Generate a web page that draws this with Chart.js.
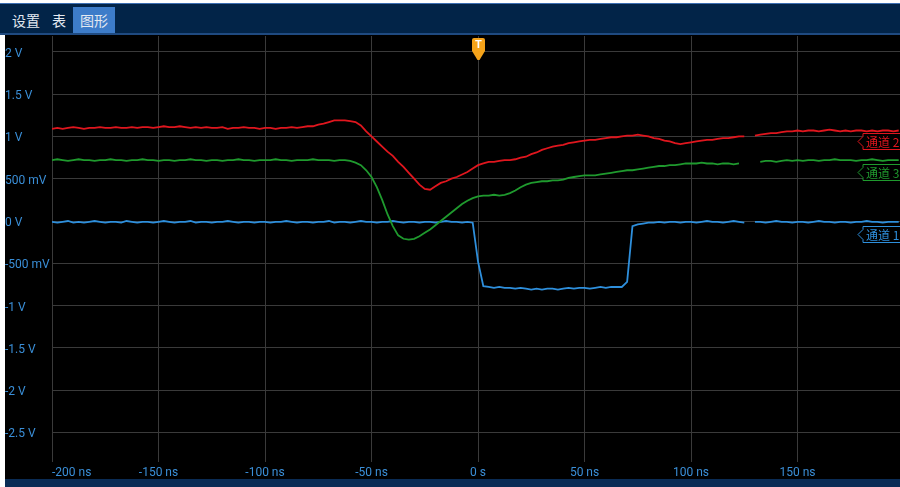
<!DOCTYPE html>
<html>
<head>
<meta charset="utf-8">
<script src="https://cdn.jsdelivr.net/npm/chart.js@4.4.1/dist/chart.umd.min.js"></script>
<style>
  html, body { margin: 0; padding: 0; background: #fff; width: 900px; height: 487px; overflow: hidden; }
  #topbar { position: absolute; left: 0; top: 3px; width: 900px; height: 32px; box-sizing: border-box;
            background: #022448; border-top: 1px solid #3c6fb3; border-bottom: 2px solid #1f4a80; }
  .tab { position: absolute; top: 3px; height: 26px; line-height: 26px; font-family: "Noto Sans CJK SC", sans-serif;
         font-size: 14px; color: #e3e9f1; text-align: center; }
  .tab.active { background: #3d7cc9; }
  #plot { position: absolute; left: 5px; top: 35px; width: 895px; height: 444px; background: #000; }
  #bottombar { position: absolute; left: 5px; top: 479px; width: 895px; height: 8px; background: #0a2c55; }
</style>
</head>
<body>
<div id="topbar">
  <div class="tab" style="left:12px;">设置</div>
  <div class="tab" style="left:52px;">表</div>
  <div class="tab active" style="left:73px;width:42px;">图形</div>
</div>
<div id="plot"><canvas id="scope" width="895" height="444"></canvas></div>
<div id="bottombar"></div>
<script>
// Sample times (ns)
const timeNs = [
  -200,-197.5,-195,-192.5,-190,-187.5,-185,-182.5,-180,-177.5,
  -175,-172.5,-170,-167.5,-165,-162.5,-160,-157.5,-155,-152.5,
  -150,-147.5,-145,-142.5,-140,-137.5,-135,-132.5,-130,-127.5,
  -125,-122.5,-120,-117.5,-115,-112.5,-110,-107.5,-105,-102.5,
  -100,-97.5,-95,-92.5,-90,-87.5,-85,-82.5,-80,-77.5,
  -75,-72.5,-70,-67.5,-65,-62.5,-60,-57.5,-55,-52.5,
  -50,-47.5,-45,-42.5,-40,-37.5,-35,-32.5,-30,-27.5,
  -25,-22.5,-20,-17.5,-15,-12.5,-10,-7.5,-5,-2.5,
  0,2.5,5,7.5,10,12.5,15,17.5,20,22.5,
  25,27.5,30,32.5,35,37.5,40,42.5,45,47.5,
  50,52.5,55,57.5,60,62.5,65,67.5,70,72.5,
  75,77.5,80,82.5,85,87.5,90,92.5,95,97.5,
  100,102.5,105,107.5,110,112.5,115,117.5,120,122.5,
  125,127.5,130,132.5,135,137.5,140,142.5,145,147.5,
  150,152.5,155,157.5,160,162.5,165,167.5,170,172.5,
  175,177.5,180,182.5,185,187.5,190,192.5,195,197.5
];

// Channel 1 (V)
const ch1Volts = [
  -0.01,-0.02,-0.01,0.00,-0.02,-0.01,-0.02,-0.01,0.00,-0.01,
  -0.02,-0.01,-0.01,-0.02,0.00,-0.01,-0.02,-0.01,-0.01,-0.02,
  -0.01,0.00,-0.01,-0.02,-0.01,-0.01,0.00,-0.02,-0.01,-0.01,
  -0.02,-0.01,-0.01,0.00,-0.01,-0.02,-0.01,-0.01,-0.02,-0.01,
  -0.01,-0.02,-0.01,-0.01,0.00,-0.01,-0.02,-0.01,-0.01,-0.02,
  -0.01,-0.01,0.00,-0.02,-0.01,-0.01,-0.02,-0.01,0.00,-0.01,
  -0.01,-0.02,-0.01,-0.01,0.00,-0.01,-0.02,-0.01,-0.01,-0.02,
  -0.01,-0.01,-0.02,-0.01,0.00,-0.01,-0.01,-0.02,-0.01,-0.02,
  -0.48,-0.77,-0.78,-0.79,-0.78,-0.79,-0.79,-0.80,-0.79,-0.80,
  -0.81,-0.80,-0.81,-0.80,-0.80,-0.81,-0.80,-0.79,-0.80,-0.79,
  -0.79,-0.80,-0.79,-0.78,-0.79,-0.78,-0.78,-0.78,-0.72,-0.06,
  -0.04,-0.03,-0.02,-0.02,-0.01,-0.02,-0.01,-0.01,-0.02,-0.01,
  -0.01,-0.02,-0.01,0.00,-0.01,-0.01,-0.02,-0.01,0.00,-0.01,
  -0.02,null,-0.01,-0.01,-0.02,-0.01,0.00,-0.01,-0.01,-0.02,
  -0.01,-0.01,-0.02,-0.01,0.00,-0.01,-0.01,-0.02,-0.01,-0.01,
  -0.02,-0.01,-0.01,0.00,-0.01,-0.01,-0.02,-0.01,-0.01,-0.01
];

// Channel 2 (V)
const ch2Volts = [
  1.09,1.10,1.09,1.10,1.11,1.10,1.09,1.10,1.10,1.11,
  1.10,1.10,1.11,1.10,1.10,1.11,1.10,1.11,1.11,1.10,
  1.11,1.12,1.11,1.11,1.12,1.11,1.10,1.11,1.10,1.11,
  1.10,1.10,1.11,1.09,1.10,1.10,1.11,1.10,1.10,1.09,
  1.10,1.10,1.09,1.10,1.10,1.11,1.10,1.11,1.12,1.12,
  1.14,1.15,1.17,1.19,1.19,1.19,1.18,1.17,1.13,1.06,
  1.00,0.94,0.88,0.82,0.77,0.70,0.64,0.57,0.50,0.43,
  0.38,0.37,0.41,0.45,0.47,0.50,0.52,0.55,0.58,0.62,
  0.66,0.68,0.70,0.70,0.71,0.72,0.72,0.73,0.75,0.76,
  0.79,0.81,0.84,0.86,0.88,0.89,0.90,0.92,0.93,0.94,
  0.95,0.96,0.96,0.97,0.98,0.99,0.99,1.00,1.01,1.01,
  1.02,1.01,1.00,0.98,0.97,0.95,0.94,0.92,0.91,0.92,
  0.93,0.94,0.95,0.96,0.96,0.97,0.98,0.98,0.99,1.00,
  1.00,null,1.01,1.02,1.03,1.04,1.04,1.05,1.06,1.06,
  1.07,1.06,1.07,1.07,1.06,1.07,1.08,1.07,1.06,1.07,
  1.06,1.07,1.07,1.06,1.07,1.06,1.07,1.07,1.06,1.07
];

// Channel 3 (V)
const ch3Volts = [
  0.72,0.73,0.72,0.71,0.72,0.73,0.72,0.72,0.71,0.72,
  0.72,0.73,0.72,0.72,0.71,0.72,0.72,0.73,0.72,0.72,
  0.71,0.72,0.72,0.71,0.72,0.72,0.73,0.72,0.72,0.71,
  0.72,0.72,0.71,0.72,0.72,0.73,0.72,0.72,0.71,0.72,
  0.72,0.72,0.73,0.72,0.72,0.71,0.72,0.72,0.72,0.73,
  0.72,0.72,0.72,0.71,0.72,0.72,0.71,0.69,0.66,0.60,
  0.52,0.40,0.25,0.08,-0.06,-0.17,-0.21,-0.22,-0.21,-0.18,
  -0.14,-0.10,-0.05,0.00,0.05,0.10,0.15,0.20,0.24,0.27,
  0.29,0.30,0.30,0.31,0.30,0.31,0.33,0.36,0.40,0.43,
  0.45,0.46,0.47,0.47,0.48,0.48,0.49,0.51,0.52,0.53,
  0.54,0.54,0.54,0.55,0.56,0.57,0.58,0.59,0.60,0.60,
  0.61,0.62,0.63,0.64,0.65,0.65,0.66,0.66,0.67,0.68,
  0.68,0.68,0.69,0.68,0.68,0.67,0.68,0.68,0.67,0.68,
  null,null,null,0.70,0.71,0.71,0.70,0.71,0.72,0.71,
  0.72,0.71,0.72,0.72,0.71,0.72,0.72,0.73,0.72,0.72,
  0.72,0.71,0.72,0.72,0.73,0.72,0.71,0.72,0.72,0.72
];

const yTickValues = [-2.5, -2, -1.5, -1, -0.5, 0, 0.5, 1, 1.5, 2];
const yTickLabels = ['-2.5 V', '-2 V', '-1.5 V', '-1 V', '-500 mV', '0 V', '500 mV', '1 V', '1.5 V', '2 V'];
const xTickValues = [-200, -150, -100, -50, 0, 50, 100, 150];
const xTickLabels = ['-200 ns', '-150 ns', '-100 ns', '-50 ns', '0 s', '50 ns', '100 ns', '150 ns'];
const channelNames = ['通道 1', '通道 2', '通道 3'];
const channelColors = ['#2e8fdc', '#e0161e', '#1f9a2e'];

const X_MIN = -200, X_MAX = 198.1;
const Y_MIN = -2.849, Y_MAX = 2.187;
const GRID = '#3a3a3a';
const TICK_COLOR = '#3a8fd8';

function series(values) {
  return timeNs.map((t, i) => ({ x: t, y: values[i] }));
}

// Channel offset tags on the right edge and the trigger pin at t = 0
const overlayPlugin = {
  id: 'scopeOverlay',
  afterDatasetsDraw(chart, args, opts) {
    const ctx = chart.ctx;
    const xs = chart.scales.x, ys = chart.scales.y;
    const area = chart.chartArea;
    ctx.save();
    opts.tags.forEach(tag => {
      const cy = Math.round(ys.getPixelForValue(tag.level)) + 0.5;
      const tip = area.right - 42, left = tip + 5;
      const top = cy - 8, bottom = cy + 8;
      ctx.beginPath();
      ctx.moveTo(area.right + 3, top);
      ctx.lineTo(left, top);
      ctx.lineTo(left, cy - 5);
      ctx.lineTo(tip, cy);
      ctx.lineTo(left, cy + 5);
      ctx.lineTo(left, bottom);
      ctx.lineTo(area.right + 3, bottom);
      ctx.fillStyle = '#000';
      ctx.fill();
      ctx.strokeStyle = tag.color;
      ctx.lineWidth = 1;
      ctx.stroke();
      ctx.fillStyle = tag.color;
      ctx.font = '12px "Noto Sans CJK SC"';
      ctx.textBaseline = 'middle';
      ctx.textAlign = 'left';
      ctx.fillText(tag.text, left + 3, cy + 0.5);
    });
    // trigger pin
    const tx = Math.round(xs.getPixelForValue(0)) + 0.5;
    const y0 = 3;
    ctx.beginPath();
    ctx.moveTo(tx - 4.5, y0);
    ctx.lineTo(tx + 4.5, y0);
    ctx.quadraticCurveTo(tx + 6.5, y0, tx + 6.5, y0 + 2);
    ctx.lineTo(tx + 6.5, y0 + 13);
    ctx.lineTo(tx + 1, y0 + 22);
    ctx.lineTo(tx - 1, y0 + 22);
    ctx.lineTo(tx - 6.5, y0 + 13);
    ctx.lineTo(tx - 6.5, y0 + 2);
    ctx.quadraticCurveTo(tx - 6.5, y0, tx - 4.5, y0);
    ctx.closePath();
    ctx.fillStyle = '#f5a31a';
    ctx.fill();
    ctx.fillStyle = '#ffffff';
    ctx.font = 'bold 11px Roboto';
    ctx.textAlign = 'center';
    ctx.textBaseline = 'middle';
    ctx.fillText('T', tx, y0 + 7.5);
    ctx.restore();
  }
};

new Chart(document.getElementById('scope'), {
  type: 'line',
  data: {
    datasets: [
      { label: channelNames[1], data: series(ch2Volts), borderColor: channelColors[1] },
      { label: channelNames[2], data: series(ch3Volts), borderColor: channelColors[2] },
      { label: channelNames[0], data: series(ch1Volts), borderColor: channelColors[0] }
    ].map(d => Object.assign(d, { borderWidth: 1.8, pointRadius: 0, tension: 0, spanGaps: false, fill: false }))
  },
  options: {
    responsive: false,
    animation: false,
    events: [],
    layout: { padding: { top: 1, left: 0, right: 0, bottom: 0 } },
    plugins: {
      legend: { display: false },
      tooltip: { enabled: false },
      scopeOverlay: {
        tags: [
          { text: channelNames[1], color: channelColors[1], level: 0.946 },
          { text: channelNames[2], color: channelColors[2], level: 0.579 },
          { text: channelNames[0], color: channelColors[0], level: -0.154 }
        ]
      }
    },
    scales: {
      x: {
        type: 'linear',
        min: X_MIN,
        max: X_MAX,
        afterBuildTicks: s => { s.ticks = xTickValues.concat([X_MAX]).map(v => ({ value: v })); },
        afterFit: s => { s.height = 17; s.paddingLeft = 0; s.paddingRight = 0; },
        ticks: {
          autoSkip: false,
          maxRotation: 0,
          align: 'inner',
          padding: 4,
          color: TICK_COLOR,
          font: { family: 'Roboto', size: 12 },
          callback: (v, i) => (i < xTickLabels.length ? xTickLabels[i] : '')
        },
        grid: {
          color: c => (c.tick && c.tick.value > 190 ? 'rgba(0,0,0,0)' : GRID),
          drawTicks: false,
          lineWidth: 1
        },
        border: { display: false }
      },
      y: {
        type: 'linear',
        min: Y_MIN,
        max: Y_MAX,
        afterBuildTicks: s => { s.ticks = yTickValues.map(v => ({ value: v })); },
        afterFit: s => { s.width = 47; s.paddingTop = 0; s.paddingBottom = 0; },
        ticks: {
          crossAlign: 'far',
          padding: 4,
          labelOffset: 2,
          color: TICK_COLOR,
          font: { family: 'Roboto', size: 12 },
          callback: (v, i) => yTickLabels[i]
        },
        grid: { color: GRID, drawTicks: false, lineWidth: 1 },
        border: { display: false }
      }
    }
  },
  plugins: [overlayPlugin]
});
</script>
</body>
</html>
